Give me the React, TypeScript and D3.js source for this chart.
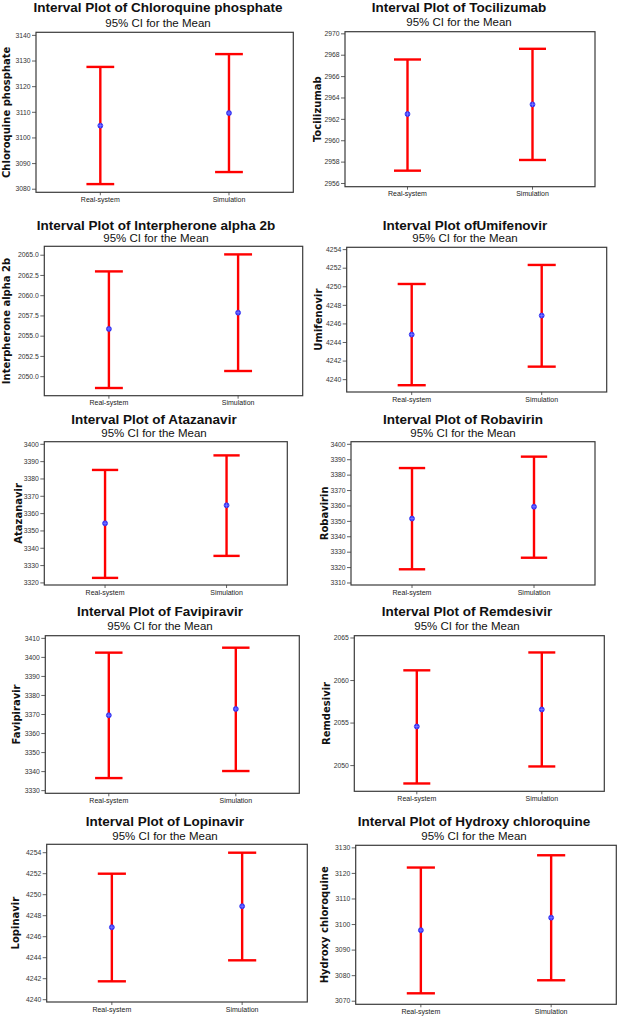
import React from 'react';
import * as d3 from 'd3';

// categories on the x axis
const groups = ['Real-system', 'Simulation'];

const titles = [
  'Interval Plot of Chloroquine phosphate',
  'Interval Plot of Tocilizumab',
  'Interval Plot of Interpherone alpha 2b',
  'Interval Plot ofUmifenovir',
  'Interval Plot of Atazanavir',
  'Interval Plot of Robavirin',
  'Interval Plot of Favipiravir',
  'Interval Plot of Remdesivir',
  'Interval Plot of Lopinavir',
  'Interval Plot of Hydroxy chloroquine',
];
const subtitle = '95% CI for the Mean';
const yLabels = [
  'Chloroquine phosphate',
  'Tocilizumab',
  'Interpherone alpha 2b',
  'Umifenovir',
  'Atazanavir',
  'Robavirin',
  'Favipiravir',
  'Remdesivir',
  'Lopinavir',
  'Hydroxy chloroquine',
];

// [Real-system, Simulation] per drug
const means = [
  [3104.8, 3109.7],
  [2962.5, 2963.4],
  [2055.9, 2057.9],
  [4244.85, 4246.9],
  [3354.4, 3364.8],
  [3351.8, 3359.5],
  [3369.6, 3372.9],
  [2054.6, 2056.6],
  [4246.9, 4248.9],
  [3097.8, 3102.7],
];
const lowerCI = [
  [3082.0, 3086.7],
  [2957.2, 2958.2],
  [2048.6, 2050.7],
  [4239.4, 4241.4],
  [3322.9, 3335.6],
  [3318.9, 3326.4],
  [3336.6, 3340.3],
  [2047.9, 2049.9],
  [4241.75, 4243.75],
  [3073.1, 3078.2],
];
const upperCI = [
  [3127.7, 3132.7],
  [2967.6, 2968.6],
  [2063.0, 2065.1],
  [4250.3, 4252.35],
  [3385.2, 3393.6],
  [3384.6, 3392.0],
  [3402.5, 3405.1],
  [2061.2, 2063.3],
  [4252.0, 4254.0],
  [3122.3, 3127.1],
];

const yTicks = [
  [3080, 3090, 3100, 3110, 3120, 3130, 3140],
  [2956, 2958, 2960, 2962, 2964, 2966, 2968, 2970],
  [2050, 2052.5, 2055, 2057.5, 2060, 2062.5, 2065],
  [4240, 4242, 4244, 4246, 4248, 4250, 4252, 4254],
  [3320, 3330, 3340, 3350, 3360, 3370, 3380, 3390, 3400],
  [3310, 3320, 3330, 3340, 3350, 3360, 3370, 3380, 3390, 3400],
  [3330, 3340, 3350, 3360, 3370, 3380, 3390, 3400, 3410],
  [2050, 2055, 2060, 2065],
  [4240, 4242, 4244, 4246, 4248, 4250, 4252, 4254],
  [3070, 3080, 3090, 3100, 3110, 3120, 3130],
];
const yDomains = [
  [3078.8, 3141.2],
  [2955.7, 2970.2],
  [2047.65, 2066.1],
  [4238.67, 4254.25],
  [3318.8, 3401.5],
  [3308.7, 3401.7],
  [3328.6, 3411.4],
  [2046.98, 2065.27],
  [4239.78, 4254.8],
  [3068.8, 3131.0],
];
const tickFormats = ['d', 'd', '.1f', 'd', 'd', 'd', 'd', 'd', 'd', 'd'];

// panel placement: frame box, title centre/baselines, y-label baseline x
const layout = [
  { x0: 36, x1: 293.3, y0: 32.3, y1: 192.3, tx: 158, ty: 12, sy: 27, lx: 9.5 },
  { x0: 345, x1: 595, y0: 31.7, y1: 186.7, tx: 459, ty: 12, sy: 26, lx: 320.7 },
  { x0: 44.3, x1: 302.7, y0: 246.3, y1: 395.7, tx: 156, ty: 229.7, sy: 242.3, lx: 9.5 },
  { x0: 346.7, x1: 606.7, y0: 247.3, y1: 392, tx: 465, ty: 229.7, sy: 242, lx: 322.3 },
  { x0: 44.3, x1: 287.3, y0: 441.7, y1: 585, tx: 154, ty: 424.3, sy: 436.7, lx: 21.7 },
  { x0: 351, x1: 595, y0: 441.7, y1: 585, tx: 463, ty: 424.3, sy: 436.7, lx: 328 },
  { x0: 45.3, x1: 299.3, y0: 635.7, y1: 793.3, tx: 160, ty: 615.7, sy: 630, lx: 19.5 },
  { x0: 354.3, x1: 604.3, y0: 635.7, y1: 791.3, tx: 467, ty: 615.7, sy: 630, lx: 329.7 },
  { x0: 46.7, x1: 307.3, y0: 844.3, y1: 1002, tx: 165, ty: 826, sy: 839.7, lx: 18.7 },
  { x0: 355.7, x1: 616.3, y0: 845.3, y1: 1004.3, tx: 474, ty: 826, sy: 840, lx: 327.7 },
];

const RED = '#ff0000';
const FRAME = '#3a3a3a';

function Panel({ i }: { i: number }) {
  const L = layout[i];
  const x = d3.scalePoint<string>().domain(groups).range([L.x0, L.x1]).padding(0.5);
  const y = d3.scaleLinear().domain(yDomains[i]).range([L.y1, L.y0]);
  const fmt = d3.format(tickFormats[i]);
  const capHalf = (L.x1 - L.x0) * 0.054;
  const midY = (L.y0 + L.y1) / 2;

  return (
    <g>
      <text x={L.tx} y={L.ty} textAnchor="middle" fontFamily="'Liberation Sans', Arial, sans-serif"
        fontWeight="bold" fontSize={13.5} fill="#111">{titles[i]}</text>
      <text x={L.tx} y={L.sy} textAnchor="middle" fontFamily="'Liberation Sans', Arial, sans-serif"
        fontSize={11.5} fill="#111">{subtitle}</text>

      <rect x={L.x0} y={L.y0} width={L.x1 - L.x0} height={L.y1 - L.y0}
        fill="#fff" stroke={FRAME} strokeWidth={1.2} />

      {yTicks[i].map(t => (
        <g key={t} transform={`translate(${L.x0},${y(t)})`}>
          <line x1={-4} x2={0} stroke={FRAME} strokeWidth={0.8} />
          <text x={-5.5} dy="0.33em" textAnchor="end" fontFamily="'Liberation Sans', Arial, sans-serif"
            fontSize={6.8} fill="#333">{fmt(t)}</text>
        </g>
      ))}

      {groups.map(g => (
        <g key={g} transform={`translate(${x(g)},${L.y1})`}>
          <line y1={0} y2={3} stroke={FRAME} strokeWidth={0.8} />
          <text y={9.5} textAnchor="middle" fontFamily="'Liberation Sans', Arial, sans-serif"
            fontSize={7} fill="#222">{g}</text>
        </g>
      ))}

      <text transform={`translate(${L.lx},${midY}) rotate(-90)`} textAnchor="middle"
        fontFamily="'DejaVu Sans', Verdana, sans-serif" fontWeight="bold" fontSize={10} fill="#111">
        {yLabels[i]}
      </text>

      {groups.map((g, j) => {
        const cx = x(g) as number;
        const yl = y(lowerCI[i][j]);
        const yu = y(upperCI[i][j]);
        const ym = y(means[i][j]);
        return (
          <g key={g}>
            <line x1={cx} x2={cx} y1={yl} y2={yu} stroke={RED} strokeWidth={2.4} />
            <line x1={cx - capHalf} x2={cx + capHalf} y1={yu} y2={yu} stroke={RED} strokeWidth={2.4} />
            <line x1={cx - capHalf} x2={cx + capHalf} y1={yl} y2={yl} stroke={RED} strokeWidth={2.4} />
            <circle cx={cx} cy={ym} r={2.5} fill="#3a3aff" stroke="#1a1ae6" strokeWidth={0.6} />
            <line x1={cx - 2.5} x2={cx + 2.5} y1={ym} y2={ym} stroke="#9a9aff" strokeWidth={0.5} />
            <line x1={cx} x2={cx} y1={ym - 2.5} y2={ym + 2.5} stroke="#9a9aff" strokeWidth={0.5} />
          </g>
        );
      })}
    </g>
  );
}

export default function App() {
  return (
    <svg width={618} height={1016} viewBox="0 0 618 1016"
      style={{ position: 'absolute', left: 0, top: 0, background: '#fff' }}>
      <rect width={618} height={1016} fill="#fff" />
      {titles.map((_, i) => <Panel key={i} i={i} />)}
    </svg>
  );
}
